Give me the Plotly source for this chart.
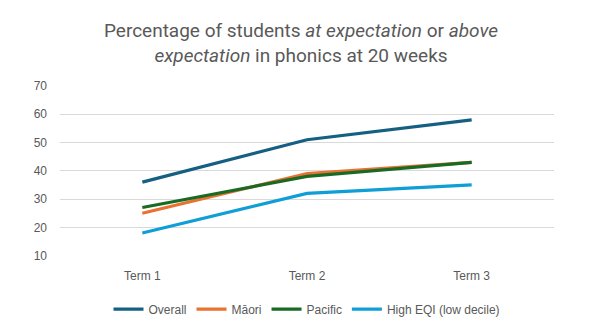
import plotly.graph_objects as go

terms = ["Term 1", "Term 2", "Term 3"]
overall = [36, 51, 58]
maori = [25, 39, 43]
pacific = [27, 38, 43]
high_eqi = [18, 32, 35]

series = [
    ("Overall", overall, "#156082"),
    ("Māori", maori, "#E97132"),
    ("Pacific", pacific, "#196B24"),
    ("High EQI (low decile)", high_eqi, "#0F9ED5"),
]

fig = go.Figure()
for name, vals, color in series:
    fig.add_trace(go.Scatter(
        x=terms, y=vals, name=name, mode="lines",
        line=dict(color=color, width=3.2),
    ))

grey = "#595959"
fig.update_layout(
    width=602, height=323,
    margin=dict(l=60, r=48, t=86, b=61),
    paper_bgcolor="white", plot_bgcolor="white",
    font=dict(family="Liberation Sans, Arial, sans-serif", size=12, color=grey),
    title=dict(
        text="Percentage of students <i>at expectation</i> or <i>above</i><br>"
             "<i>expectation</i> in phonics at 20 weeks",
        x=0.5, xanchor="center", y=0.885, yanchor="top",
        font=dict(family="Roboto, sans-serif", size=19, color=grey),
    ),
    showlegend=True,
    legend=dict(
        orientation="h", x=0.5, xanchor="center",
        yref="container", y=0.043, yanchor="middle",
        font=dict(size=12, color=grey), itemwidth=30, tracegroupgap=0,
    ),
    xaxis=dict(showgrid=False, showline=False, ticks="", range=[-0.5, 2.5],
               ticklabelstandoff=11, tickfont=dict(size=12, color=grey)),
    yaxis=dict(
        range=[10, 70], dtick=10, showgrid=True, gridcolor="#D9D9D9", gridwidth=1,
        zeroline=False, showline=False, ticks="", ticklabelstandoff=12,
        tickfont=dict(size=12, color=grey),
    ),
)

fig.write_html("out.html")
